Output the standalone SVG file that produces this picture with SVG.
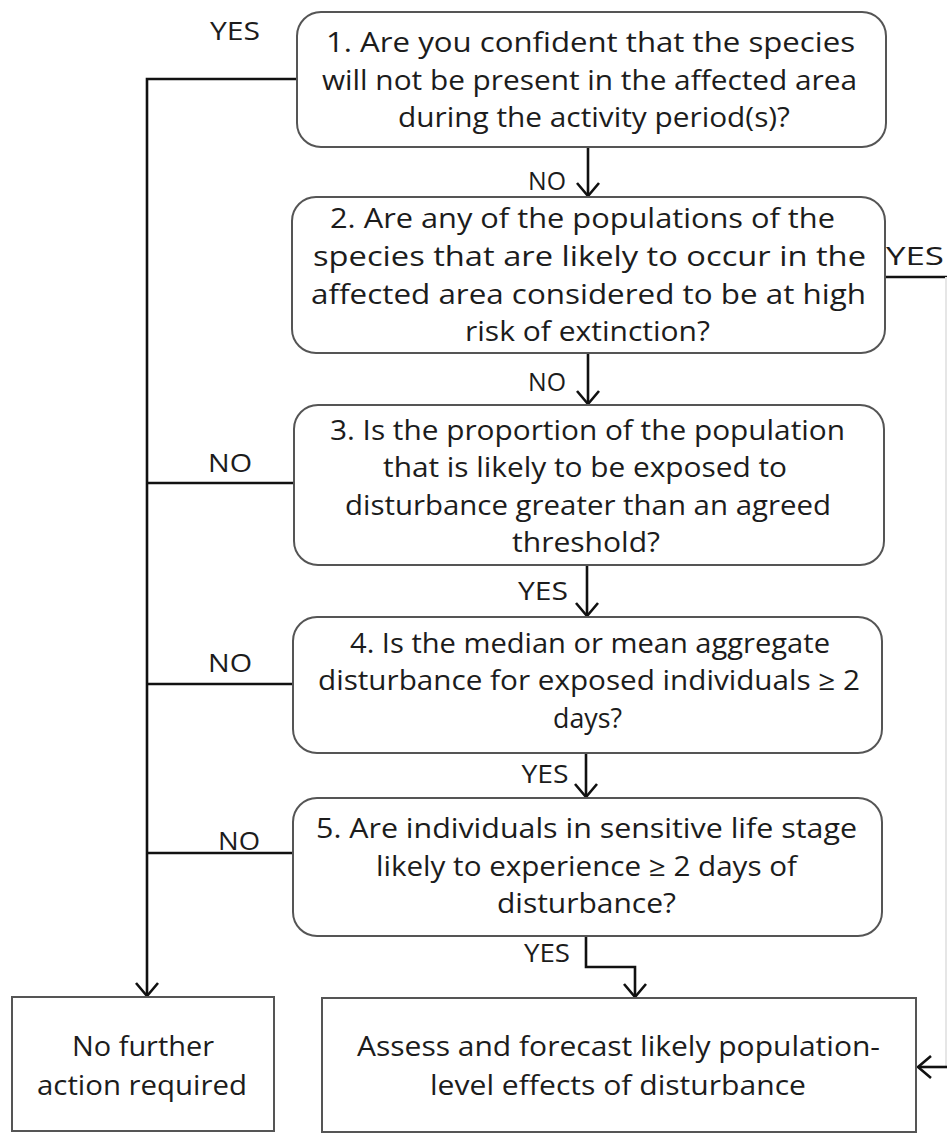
<svg xmlns="http://www.w3.org/2000/svg" width="947" height="1134" viewBox="0 0 947 1134">
<style>
.box{fill:#fff;stroke:#555;stroke-width:2}
.t{font-family:"Open Sans","Liberation Sans",sans-serif;font-size:27px;fill:#1c1c1c;text-anchor:middle}
.lbl{font-family:"Open Sans","Liberation Sans",sans-serif;font-size:26px;fill:#1c1c1c;text-anchor:middle}
.c{fill:none;stroke:#111;stroke-width:2.6}
</style>
<defs>
<marker id="ah" markerUnits="userSpaceOnUse" viewBox="0 0 16 24" markerWidth="16" markerHeight="24" refX="14" refY="12" orient="auto">
<path d="M1,1 L14,12 L1,23" fill="none" stroke="#111" stroke-width="2.6"/>
</marker>
</defs>
<rect width="947" height="1134" fill="#fff"/>
<g id="connectors">
<path class="c" d="M297,79 H147 V996" marker-end="url(#ah)"/>
<path class="c" d="M294,483 H147"/>
<path class="c" d="M293,684 H147"/>
<path class="c" d="M293,853 H147"/>
<path class="c" d="M588,147 V196" marker-end="url(#ah)"/>
<path class="c" d="M588,353 V404" marker-end="url(#ah)"/>
<path class="c" d="M587,565 V616" marker-end="url(#ah)"/>
<path class="c" d="M586,753 V797" marker-end="url(#ah)"/>
<path class="c" d="M586,936 V967 H635 V997" marker-end="url(#ah)"/>
<path class="c" d="M885,277 H947"/>
<path d="M946,277 V1067" fill="none" stroke="#e6e6e6" stroke-width="2"/>
<path class="c" d="M947,1067 H918" marker-end="url(#ah)"/>
<text class="lbl" x="235" y="40" textLength="50" lengthAdjust="spacingAndGlyphs">YES</text>
<text class="lbl" x="915" y="265" textLength="58" lengthAdjust="spacingAndGlyphs">YES</text>
<text class="lbl" x="547" y="190" textLength="38" lengthAdjust="spacingAndGlyphs">NO</text>
<text class="lbl" x="547" y="391" textLength="38" lengthAdjust="spacingAndGlyphs">NO</text>
<text class="lbl" x="543" y="600" textLength="50" lengthAdjust="spacingAndGlyphs">YES</text>
<text class="lbl" x="545" y="783" textLength="47" lengthAdjust="spacingAndGlyphs">YES</text>
<text class="lbl" x="547" y="962" textLength="46" lengthAdjust="spacingAndGlyphs">YES</text>
<text class="lbl" x="230" y="472" textLength="44" lengthAdjust="spacingAndGlyphs">NO</text>
<text class="lbl" x="230" y="672" textLength="44" lengthAdjust="spacingAndGlyphs">NO</text>
<text class="lbl" x="239" y="850" textLength="42" lengthAdjust="spacingAndGlyphs">NO</text>
</g>
<g id="q1">
<rect class="box" x="297" y="12" width="589" height="135" rx="24"/>
<text class="t" x="590.5" y="52" textLength="529" lengthAdjust="spacingAndGlyphs">1. Are you confident that the species</text>
<text class="t" x="589.5" y="90" textLength="535" lengthAdjust="spacingAndGlyphs">will not be present in the affected area</text>
<text class="t" x="594" y="127" textLength="392" lengthAdjust="spacingAndGlyphs">during the activity period(s)?</text>
</g>
<g id="q2">
<rect class="box" x="292" y="197" width="593" height="156" rx="24"/>
<text class="t" x="582.5" y="228" textLength="505" lengthAdjust="spacingAndGlyphs">2. Are any of the populations of the</text>
<text class="t" x="589.5" y="266" textLength="553" lengthAdjust="spacingAndGlyphs">species that are likely to occur in the</text>
<text class="t" x="588.5" y="304" textLength="555" lengthAdjust="spacingAndGlyphs">affected area considered to be at high</text>
<text class="t" x="587.5" y="341" textLength="245" lengthAdjust="spacingAndGlyphs">risk of extinction?</text>
</g>
<g id="q3">
<rect class="box" x="294" y="405" width="590" height="160" rx="24"/>
<text class="t" x="587.5" y="440" textLength="515" lengthAdjust="spacingAndGlyphs">3. Is the proportion of the population</text>
<text class="t" x="585" y="477" textLength="404" lengthAdjust="spacingAndGlyphs">that is likely to be exposed to</text>
<text class="t" x="588" y="515" textLength="486" lengthAdjust="spacingAndGlyphs">disturbance greater than an agreed</text>
<text class="t" x="586" y="552" textLength="148" lengthAdjust="spacingAndGlyphs">threshold?</text>
</g>
<g id="q4">
<rect class="box" x="293" y="617" width="589" height="136" rx="24"/>
<text class="t" x="590" y="653" textLength="480" lengthAdjust="spacingAndGlyphs">4. Is the median or mean aggregate</text>
<text class="t" x="589" y="690" textLength="542" lengthAdjust="spacingAndGlyphs">disturbance for exposed individuals ≥ 2</text>
<text class="t" x="587.5" y="728" textLength="69" lengthAdjust="spacingAndGlyphs">days?</text>
</g>
<g id="q5">
<rect class="box" x="293" y="798" width="589" height="138" rx="24"/>
<text class="t" x="586.5" y="838" textLength="541" lengthAdjust="spacingAndGlyphs">5. Are individuals in sensitive life stage</text>
<text class="t" x="586.5" y="876" textLength="421" lengthAdjust="spacingAndGlyphs">likely to experience ≥ 2 days of</text>
<text class="t" x="586.5" y="913" textLength="179" lengthAdjust="spacingAndGlyphs">disturbance?</text>
</g>
<g id="no-action">
<rect class="box" x="12" y="997" width="262" height="134"/>
<text class="t" x="143" y="1056" textLength="142" lengthAdjust="spacingAndGlyphs">No further</text>
<text class="t" x="142" y="1095" textLength="210" lengthAdjust="spacingAndGlyphs">action required</text>
</g>
<g id="assess">
<rect class="box" x="322" y="998" width="594" height="134"/>
<text class="t" x="618.5" y="1056" textLength="523" lengthAdjust="spacingAndGlyphs">Assess and forecast likely population-</text>
<text class="t" x="618" y="1095" textLength="376" lengthAdjust="spacingAndGlyphs">level effects of disturbance</text>
</g>
</svg>
